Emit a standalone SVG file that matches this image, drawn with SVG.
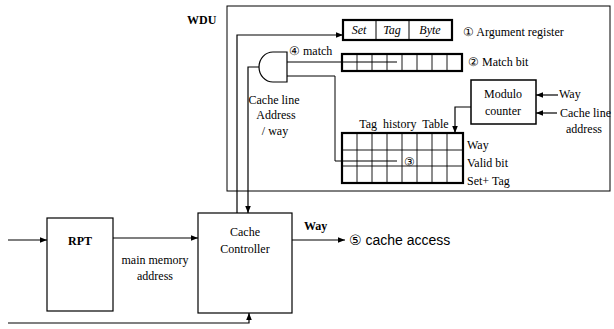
<svg xmlns="http://www.w3.org/2000/svg" width="614" height="329" viewBox="0 0 614 329">
<defs>
<marker id="ah" viewBox="0 0 10 10" refX="10" refY="5" markerWidth="7" markerHeight="7" markerUnits="userSpaceOnUse" orient="auto"><path d="M0,1 L10,5 L0,9 z" fill="#000"/></marker>
<style>
.t{font-family:"Liberation Serif","DejaVu Serif",serif;font-size:12px;fill:#000}
.b{font-weight:bold}
.s{font-family:"Liberation Sans","DejaVu Sans",sans-serif;font-size:14px;fill:#000}
.box{fill:#fff;stroke:#000;stroke-width:1.2}
.thick{fill:none;stroke:#000;stroke-width:2.2}
.cell{fill:none;stroke:#000;stroke-width:0.9}
.ln{fill:none;stroke:#000;stroke-width:1}
.arr{fill:none;stroke:#000;stroke-width:1.2;marker-end:url(#ah)}
</style>
</defs>
<rect width="614" height="329" fill="#fff"/>

<g id="wdu">
<rect x="227" y="6" width="383" height="185" fill="none" stroke="#000" stroke-width="1"/>
<text class="t b" x="187" y="24" font-size="13">WDU</text>
</g>

<g id="arg-register">
<rect x="343" y="20" width="109" height="20" class="thick"/>
<line x1="376" y1="20" x2="376" y2="40" class="ln"/>
<line x1="409" y1="20" x2="409" y2="40" class="ln"/>
<text class="t" x="359" y="34" text-anchor="middle" font-style="italic">Set</text>
<text class="t" x="392" y="34" text-anchor="middle" font-style="italic">Tag</text>
<text class="t" x="430" y="34" text-anchor="middle" font-style="italic">Byte</text>
<text class="t" x="463" y="36" font-size="12.5">① Argument register</text>
</g>

<g id="match-bit">
<rect x="342" y="54" width="120" height="17" class="thick"/>
<path class="cell" d="M357,54V71M372,54V71M387,54V71M402,54V71M417,54V71M432,54V71M447,54V71"/>
<text class="t" x="468" y="66" font-size="12.5">② Match bit</text>
</g>

<g id="and-gate">
<path d="M287,52 L273,52 A14,15 0 0 0 273,82 L287,82 Z" fill="#fff" stroke="#000" stroke-width="1.2"/>
<text class="t" x="289" y="55">④ match</text>
</g>

<g id="modulo-counter">
<rect x="471" y="80" width="65" height="44" fill="#fff" stroke="#000" stroke-width="1.5"/>
<text class="t" x="503" y="98" text-anchor="middle">Modulo</text>
<text class="t" x="503" y="115" text-anchor="middle">counter</text>
<text class="t" x="559" y="98">Way</text>
<text class="t" x="560" y="117">Cache line</text>
<text class="t" x="584" y="133" text-anchor="middle">address</text>
</g>

<g id="tag-history-table">
<text class="t" x="404" y="128" text-anchor="middle" font-size="12.5" word-spacing="3">Tag history Table</text>
<rect x="342" y="133" width="121" height="50" class="thick"/>
<path class="cell" d="M357,133V183M372,133V183M387,133V183M402,133V183M417,133V183M432,133V183M447,133V183M342,150H463M342,166H463"/>
<text class="t" x="467" y="149" font-size="12.5">Way</text>
<text class="t" x="467" y="167" font-size="12.5">Valid bit</text>
<text class="t" x="467" y="185" font-size="12.5">Set+ Tag</text>
<text class="t" x="409" y="166" text-anchor="middle" font-size="13">③</text>
</g>

<g id="rpt">
<rect x="47" y="218" width="66" height="93" class="box"/>
<text class="t b" x="80" y="245" text-anchor="middle" font-size="13">RPT</text>
</g>

<g id="cache-controller">
<rect x="198" y="213" width="94" height="100" class="box"/>
<text class="t" x="245" y="236" text-anchor="middle" font-size="12.5">Cache</text>
<text class="t" x="245" y="253" text-anchor="middle" font-size="12.5">Controller</text>
</g>

<g id="labels">
<text class="t" x="155" y="264" text-anchor="middle">main memory</text>
<text class="t" x="155" y="280" text-anchor="middle">address</text>
<text class="t b" x="304" y="230" font-size="12.5">Way</text>
<text class="s" x="349" y="245">⑤ cache access</text>
<text class="t" x="274" y="104" text-anchor="middle">Cache line</text>
<text class="t" x="276" y="119" text-anchor="middle">Address</text>
<text class="t" x="275" y="135" text-anchor="middle">/ way</text>
</g>

<g id="connectors">
<polyline class="arr" points="237,213 237,35 343,35"/>
<polyline class="arr" points="259,67 248,67 248,213"/>
<line class="ln" x1="287" y1="62" x2="397" y2="62"/>
<polyline class="ln" points="287,76 335,76 335,161 397,161"/>
<polyline class="arr" points="471,107 455,107 455,133"/>
<line class="arr" x1="558" y1="95" x2="536" y2="95"/>
<line class="arr" x1="557" y1="113" x2="536" y2="113"/>
<line class="arr" x1="8" y1="240" x2="47" y2="240"/>
<line class="arr" x1="113" y1="238" x2="198" y2="238"/>
<line class="arr" x1="292" y1="240" x2="345" y2="240"/>
<polyline class="arr" points="8,323 249,323 249,313"/>
</g>
</svg>
